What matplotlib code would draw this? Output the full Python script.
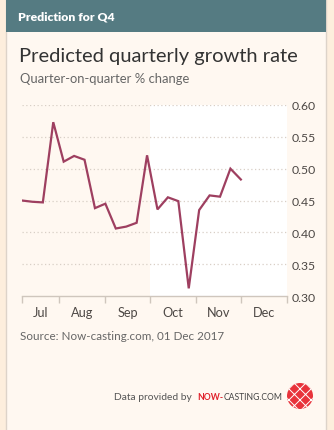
import matplotlib
matplotlib.use("Agg")
import matplotlib.pyplot as plt
import matplotlib.dates as mdates
from matplotlib.patches import Rectangle, Circle
import numpy as np
import datetime as dt

# ---- data ----
dates = [dt.date(2017, 7, 7) + dt.timedelta(days=7 * i) for i in range(22)]
values = [0.450, 0.448, 0.447, 0.573, 0.511, 0.520, 0.514, 0.438, 0.445, 0.406,
          0.409, 0.415, 0.521, 0.436, 0.455, 0.449, 0.312, 0.435, 0.458, 0.456,
          0.500, 0.483]
month_labels = ["Jul", "Aug", "Sep", "Oct", "Nov", "Dec"]
month_starts = [dt.date(2017, m, 1) for m in (8, 9, 10, 11, 12)]
x_start = dt.date(2017, 7, 7)
x_end = dt.date(2018, 1, 1)
shade_start = dt.date(2017, 10, 1)
y_ticks = [0.30, 0.35, 0.40, 0.45, 0.50, 0.55, 0.60]
y_tick_labels = ["0.30", "0.35", "0.40", "0.45", "0.50", "0.55", "0.60"]

# ---- style ----
W, H = 334, 431
DPI = 100
outer_bg = "#fdeedd"
card_bg = "#fff8f1"
header_bg = "#557b82"
border = "#ddd3c9"
line_col = "#9e3f60"
text_dark = "#333333"
text_mid = "#666666"
grid_col = "#d8cfc6"

plt.rcParams['font.family'] = ['Lato', 'DejaVu Sans']
plt.rcParams['hatch.color'] = 'white'
plt.rcParams['hatch.linewidth'] = 0.7

fig = plt.figure(figsize=(W / DPI, H / DPI), dpi=DPI, facecolor=outer_bg)

def fx(px):
    return px / W

def fy(py):
    return 1 - py / H

# card background axes (drawn below everything)
bg = fig.add_axes([0, 0, 1, 1], zorder=-10)
bg.set_xlim(0, W)
bg.set_ylim(H, 0)
bg.axis('off')
bg.add_patch(Rectangle((6, -2), 320, H + 4, facecolor=card_bg, edgecolor=border, linewidth=1.0))
bg.add_patch(Rectangle((6, -2), 320, 35, facecolor=header_bg, edgecolor='none'))

fig.text(fx(18), fy(16.5), "Prediction for Q4", color="white", fontsize=8.8,
         fontweight="heavy", va="center", ha="left")
fig.text(fx(19), fy(62), "Predicted quarterly growth rate", color=text_dark,
         fontsize=14.5, va="baseline", ha="left")
fig.text(fx(20), fy(83.5), "Quarter-on-quarter % change", color=text_mid,
         fontsize=9.4, va="baseline", ha="left")
fig.text(fx(20), fy(340), "Source: Now-casting.com, 01 Dec 2017", color=text_mid,
         fontsize=8.4, va="baseline", ha="left")
fig.text(fx(192), fy(400), "Data provided by", color="#555555",
         fontsize=7.4, va="baseline", ha="right")
t1 = fig.text(fx(197), fy(400), "NOW-", color="#e0202a", fontsize=6.2,
              va="baseline", ha="left", fontweight="bold")
fig.canvas.draw()
bb = t1.get_window_extent(renderer=fig.canvas.get_renderer())
fig.text(bb.x1 / W + fx(0.3), fy(400), "CASTING.COM", color="#444444", fontsize=6.2,
         va="baseline", ha="left")

# globe
gax = fig.add_axes([fx(287), fy(410), fx(26), 26 / H], zorder=5)
gax.set_xlim(-1, 1)
gax.set_ylim(-1, 1)
gax.set_aspect('equal')
gax.axis('off')
gax.add_patch(Circle((0, 0), 1, facecolor="#e8333b", edgecolor="white", hatch="xxx", linewidth=0))

# main axes
ax = fig.add_axes([fx(22), fy(297), fx(265), (297 - 106) / H], zorder=2)
ax.set_facecolor(card_bg)
ax.axvspan(mdates.date2num(shade_start), mdates.date2num(x_end), color="white", zorder=0, linewidth=0)
ax.plot(dates, values, color=line_col, linewidth=1.6, zorder=3, solid_joinstyle="miter")

ax.set_xlim(x_start, x_end)
ax.set_ylim(0.30, 0.60)

for s in ["top", "left", "right"]:
    ax.spines[s].set_visible(False)
ax.spines["bottom"].set_color("#cfc6bd")
ax.spines["bottom"].set_linewidth(1.0)

ax.yaxis.tick_right()
ax.set_yticks(y_ticks)
ax.set_yticklabels(y_tick_labels)
ax.tick_params(axis="y", length=0, pad=3, labelsize=8.8, labelcolor="#4d4845")
for yv in y_ticks[1:]:
    ax.axhline(yv, color=grid_col, linestyle=(0, (1, 2)), linewidth=0.9, zorder=1)

bounds = [x_start] + month_starts + [x_end]
bnum = [mdates.date2num(b) for b in bounds]
ax.set_xticks(bnum)
ax.set_xticklabels([""] * len(bnum))
ax.tick_params(axis="x", which="major", length=5, color="#cfc6bd", width=1.0)
mids = [(bnum[i] + bnum[i + 1]) / 2 for i in range(len(bnum) - 1)]
ax.set_xticks(mids, minor=True)
ax.set_xticklabels(month_labels, minor=True)
ax.tick_params(axis="x", which="minor", length=0, pad=7, labelsize=9.2, labelcolor="#4d4845")

fig.savefig("out.png", dpi=DPI, facecolor=outer_bg)
